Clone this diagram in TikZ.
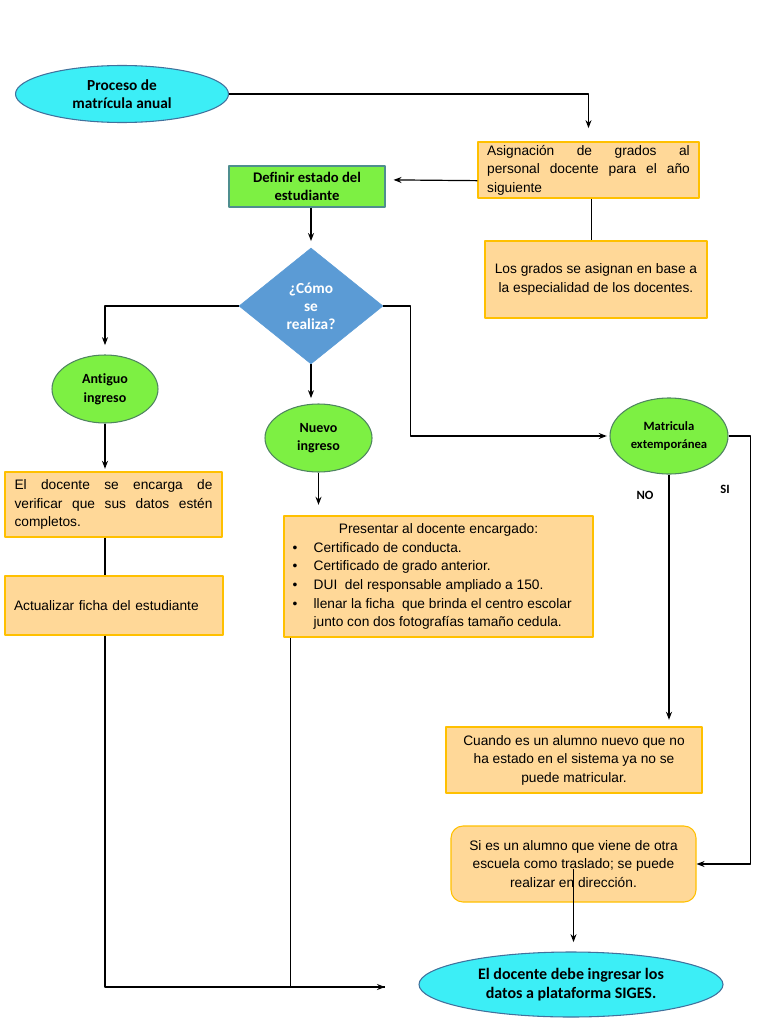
\documentclass[tikz,border=0pt]{standalone}
\usepackage{fontspec}
\setmainfont{Liberation Sans}
\newfontfamily\calibri[Ligatures=NoCommon]{Carlito}
\usetikzlibrary{shapes.geometric,arrows.meta}
\definecolor{cian}{HTML}{3CEEF6}
\definecolor{bordeazul}{HTML}{41719C}
\definecolor{verde}{HTML}{7DF043}
\definecolor{bordeverde}{HTML}{4F8560}
\definecolor{bordedef}{HTML}{4F8E8E}
\definecolor{naranja}{HTML}{FFD898}
\definecolor{bordenaranja}{HTML}{FFC000}
\definecolor{azul}{HTML}{5B9BD5}
\begin{document}
\begin{tikzpicture}[x=0.75pt,y=-0.75pt, line join=round, >={Stealth[length=6pt,width=4.5pt]},
	caja/.style={draw=bordenaranja, fill=naranja, line width=0.8pt, inner sep=0pt, font=\fontsize{10.3}{13.9}\selectfont},
	elipse/.style={ellipse, draw=bordeazul, fill=cian, line width=0.8pt, inner sep=0pt, align=center, font=\calibri\bfseries\fontsize{11.5}{13.5}\selectfont},
	circulo/.style={ellipse, draw=bordeverde, fill=verde, line width=0.8pt, inner sep=0pt, align=center, font=\calibri\bfseries\fontsize{10.5}{14}\selectfont},
	flecha/.style={->, line width=0.9pt}]
	%% Marco de la hoja
	\useasboundingbox (0,0) rectangle (768,1024);
	%% Nodos
	\node[elipse, minimum width=159.75pt, minimum height=42.75pt] (inicio) at (122,94) {Proceso de\\matrícula anual};
	\node[caja, align=justify, text width=152pt, minimum width=165.75pt, minimum height=42pt] (asignacion) at (588.5,170) {Asignación de grados al\linebreak personal docente para el año\linebreak siguiente};
	\node[draw=bordedef, fill=verde, line width=0.8pt, inner sep=0pt, align=center, minimum width=117pt, minimum height=30.75pt, font=\calibri\bfseries\fontsize{11}{14}\selectfont] (definir) at (307,186.5) {Definir estado del\\estudiante};
	\node[caja, align=center, minimum width=166.5pt, minimum height=57.75pt] (grados) at (596,279.5) {Los grados se asignan en base a\\la especialidad de los docentes.};
	\node[diamond, fill=azul, draw=azul, inner sep=0pt, minimum width=108pt, minimum height=87pt, text=white, align=center, font=\calibri\bfseries\fontsize{11.5}{13.5}\selectfont] (decision) at (311,306) {¿Cómo\\se\\realiza?};
	\node[circulo, minimum width=79.5pt, minimum height=51pt] (antiguo) at (105,389) {Antiguo\\ingreso};
	\node[circulo, minimum width=80.25pt, minimum height=51pt] (nuevo) at (318.5,438) {Nuevo\\ingreso};
	\node[circulo, minimum width=88.5pt, minimum height=57pt, font=\calibri\bfseries\fontsize{9.5}{13.5}\selectfont] (extemp) at (669,436) {Matricula\\extemporánea};
	\node[caja, align=justify, text width=148.5pt, minimum width=162.75pt, minimum height=48.75pt] (verificar) at (113.5,504.5) {El docente se encarga de\linebreak verificar que sus datos estén\linebreak completos.};
	\node[caja, align=left, text width=150pt, minimum width=163.5pt, minimum height=44.25pt] (actualizar) at (114,605.5) {Actualizar ficha del estudiante};
	\node[caja, minimum width=231.75pt, minimum height=90.75pt] (presentar) at (438.5,576.5) {%
		\begin{tabular}{@{}p{15.75pt}@{}p{203pt}@{}}
			\multicolumn{2}{c}{Presentar al docente encargado:}\\
			\textbullet & Certificado de conducta.\\
			\textbullet & Certificado de grado anterior.\\
			\textbullet & DUI\ \ del responsable ampliado a 150.\\
			\textbullet & llenar la ficha\ \ que brinda el centro escolar\\
			& junto con dos fotografías tamaño cedula.
		\end{tabular}};
	\node[caja, align=center, minimum width=192pt, minimum height=49.5pt] (cuando) at (574,760) {Cuando es un alumno nuevo que no\\ha estado en el sistema ya no se\\puede matricular.};
	\node[caja, rounded corners=9pt, align=center, minimum width=183.75pt, minimum height=57pt] (sies) at (573.5,864) {Si es un alumno que viene de otra\\escuela como traslado; se puede\\realizar en dirección.};
	\node[elipse, minimum width=228pt, minimum height=48.75pt, font=\calibri\bfseries\fontsize{12}{14}\selectfont] (final) at (571,984.5) {El docente debe ingresar los\\datos a plataforma SIGES.};
	\node[font=\calibri\bfseries\fontsize{9.5}{11}\selectfont] (no) at (645,495) {NO};
	\node[font=\calibri\bfseries\fontsize{9.5}{11}\selectfont] (si) at (725,489) {SI};
	\coordinate (fin) at (385,987);
	%% Conectores
	\draw[flecha, shorten >=10pt] (inicio.east) -| (asignacion.north);
	\draw[flecha, shorten >=6pt] ([yshift=-8pt]asignacion.west) -- ([yshift=5pt]definir.east);
	\draw[line width=0.9pt] ([xshift=2.5pt]asignacion.south) -- ([xshift=2.5pt]asignacion.south |- grados.north);
	\draw[flecha, shorten >=5pt] (decision.north |- definir.south) -- (decision.north);
	\draw[flecha, shorten >=7pt] (decision.west) -| (antiguo.north);
	\draw[flecha, shorten >=4pt] (decision.south) -- (decision.south |- nuevo.north);
	\draw[flecha, line width=1.1pt, shorten >=2pt] (decision.east) -- ++(27,0) |- (extemp.west);
	\draw[flecha, shorten >=2pt] (antiguo.south) -- (antiguo.south |- verificar.north);
	\draw[line width=0.9pt] (antiguo.south |- verificar.south) -- (antiguo.south |- actualizar.north);
	\draw[flecha] (antiguo.south |- actualizar.south) |- (fin);
	\draw[flecha, shorten >=8pt] (nuevo.south) -- (nuevo.south |- presentar.north);
	\draw[line width=0.9pt] ([xshift=5pt]presentar.south west) |- (fin);
	\draw[flecha, shorten >=5pt] (extemp.south) -- (extemp.south |- cuando.north);
	\draw[flecha] (extemp.east) -- ++(22,0) |- (sies.east);
	\draw[flecha, shorten >=7pt] ([yshift=-4pt]sies.center) -- (sies.center |- final.north);
\end{tikzpicture}
\end{document}
